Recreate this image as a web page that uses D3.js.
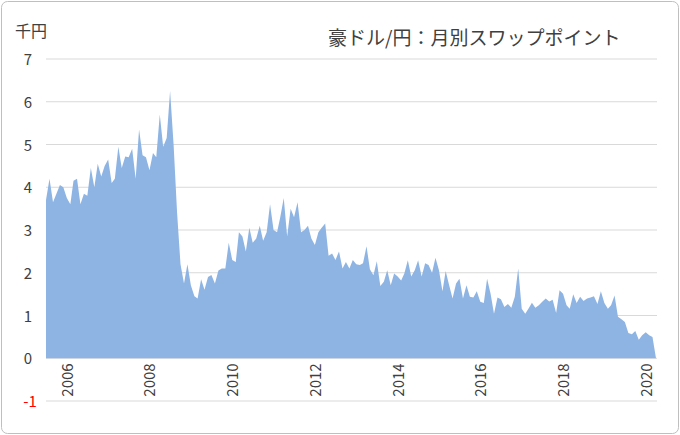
<!DOCTYPE html>
<html><head><meta charset="utf-8">
<script src="https://cdn.jsdelivr.net/npm/d3@7"></script>
<style>body{margin:0;background:#fff}svg{display:block}</style>
</head><body><svg id="c" width="680" height="435"></svg>
<script>
const startMonth = "2005-07";
const values = [3.7,4.2,3.65,3.85,4.05,4.0,3.75,3.6,4.15,4.2,3.6,3.85,3.8,4.45,4.0,4.55,4.25,4.5,4.65,4.1,4.2,4.95,4.45,4.72,4.7,4.9,4.2,5.35,4.75,4.7,4.4,4.8,4.7,5.7,4.95,5.15,6.25,5.0,3.4,2.2,1.75,2.2,1.7,1.45,1.4,1.85,1.6,1.9,1.95,1.75,2.05,2.1,2.1,2.7,2.3,2.25,2.95,2.85,2.5,3.05,2.7,2.8,3.1,2.75,2.95,3.6,3.0,2.95,3.3,3.75,2.85,3.5,3.3,3.65,2.95,3.0,3.1,2.8,2.65,2.95,3.05,3.15,2.4,2.45,2.3,2.5,2.1,2.25,2.1,2.3,2.2,
2.18,2.22,2.62,2.08,1.94,2.27,1.69,1.79,2.06,1.71,1.98,1.91,1.82,1.98,2.29,1.91,2.06,2.29,1.91,2.22,2.18,2.0,2.35,2.06,1.57,2.04,1.71,1.4,1.75,1.86,1.4,1.71,1.44,1.42,1.57,1.32,1.29,1.86,1.51,1.04,1.42,1.38,1.2,1.27,1.18,1.44,2.1,1.16,1.04,1.16,1.3,1.18,1.24,1.32,1.4,1.33,1.37,1.06,1.59,1.51,1.24,1.16,1.5,1.29,1.44,1.34,1.4,1.42,1.45,1.27,1.57,1.29,1.16,1.24,1.47,0.97,0.91,0.85,0.59,0.56,0.64,0.43,0.54,0.61,0.54,0.5,0.0];
const yTicks = [-1,0,1,2,3,4,5,6,7];
const yearLabels = [2006,2008,2010,2012,2014,2016,2018,2020];
const title = "豪ドル/円：月別スワップポイント";
const unit = "千円";

const svg = d3.select("#c");
const font = "'Noto Sans CJK JP', 'Noto Sans', sans-serif";
svg.append("rect").attr("x",1.5).attr("y",1.5).attr("width",677).attr("height",432).attr("rx",6)
  .attr("fill","#fff").attr("stroke","#bfbfbf");
const t0 = d3.timeParse("%Y-%m")(startMonth);
const data = values.map((v,i)=>({d:d3.timeMonth.offset(t0,i),v}));
const x = d3.scaleTime().domain([t0, data[data.length-1].d]).range([46,656]);
const y = d3.scaleLinear().domain([-1,7]).range([401,59]);
svg.append("g").selectAll("line").data(yTicks).join("line")
  .attr("x1",46).attr("x2",657).attr("y1",d=>y(d)).attr("y2",d=>y(d))
  .attr("stroke","#d9d9d9").attr("stroke-width",1.2);
svg.append("path").datum(data)
  .attr("d",d3.area().x(d=>x(d.d)).y0(y(0)).y1(d=>y(d.v)))
  .attr("fill","#8EB4E3");
svg.append("g").selectAll("text").data(yTicks).join("text")
  .attr("x",d=>d<0?30:28).attr("y",d=>y(d)+6).attr("text-anchor","middle")
  .attr("font-family",font).attr("font-size",15).attr("fill",d=>d<0?"#ff0000":"#404040")
  .text(d=>d);
svg.append("g").selectAll("text").data(yearLabels).join("text")
  .attr("transform",d=>`translate(${x(new Date(d,0,1))+6},380) rotate(-90)`)
  .attr("text-anchor","middle").attr("font-family",font).attr("font-size",15).attr("fill","#404040")
  .text(d=>d);
svg.append("text").attr("x",15).attr("y",37).attr("font-family",font).attr("font-size",16).attr("fill","#404040").text(unit);
svg.append("text").attr("x",328).attr("y",45).attr("font-family",font).attr("font-size",19).attr("fill","#404040").text(title);
</script></body></html>
